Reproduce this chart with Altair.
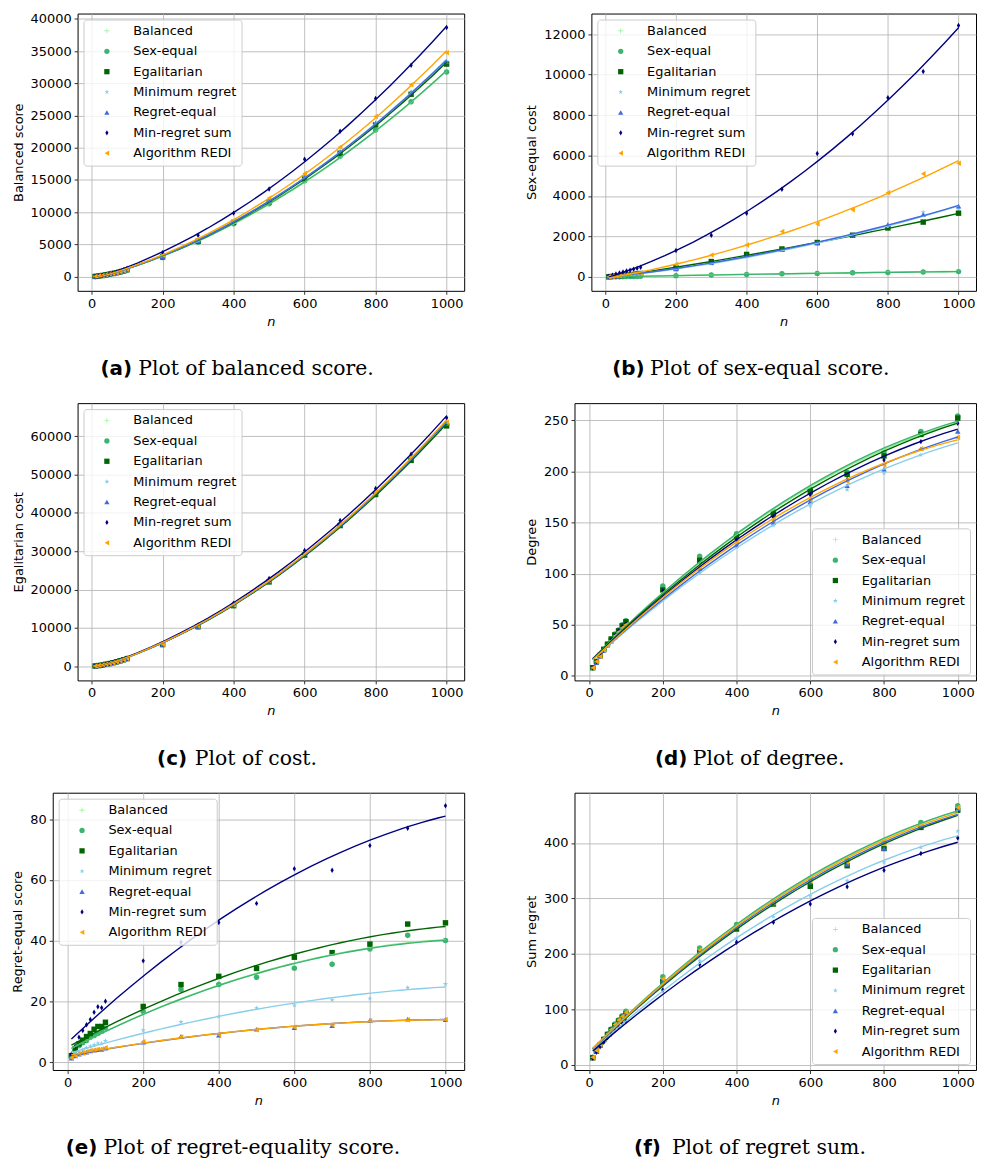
import altair as alt
import pandas as pd

# ---------------- data ----------------
N = [10, 20, 30, 40, 50, 60, 70, 80, 90, 100, 200, 300, 400, 500, 600, 700, 800, 900, 1000]
SERIES = ["Balanced", "Sex-equal", "Egalitarian", "Minimum regret", "Regret-equal",
          "Min-regret sum", "Algorithm REDI"]
COLORS = ["#90ee90", "#3cb371", "#006400", "#87ceeb", "#4169e1", "#000080", "#ffa500"]

# (a) balanced score
A_BAL = [34, 94, 169, 260, 360, 470, 590, 720, 860, 1035, 2940, 5300, 8170, 11250, 14820, 18600, 22700, 27060, 31680]
A_SEX = [35, 95, 171, 263, 364, 474, 595, 725, 865, 1042, 2965, 5345, 8220, 11320, 14890, 18660, 22760, 27120, 31740]
A_EGA = [37, 99, 177, 272, 376, 489, 613, 747, 892, 1078, 3060, 5500, 8420, 11620, 15250, 19150, 23560, 28300, 32980]
A_MIN = [38, 100, 179, 275, 381, 496, 622, 758, 904, 1096, 3110, 5590, 8530, 11790, 15430, 19460, 23870, 28680, 33420]
A_REG = [37, 100, 178, 274, 379, 494, 619, 755, 901, 1091, 3095, 5565, 8505, 11760, 15390, 19410, 23800, 28590, 33330]
A_MRS = [42, 116, 210, 322, 448, 586, 735, 896, 1068, 1300, 3720, 6430, 9850, 13600, 18200, 22550, 27650, 32780, 38650]
A_RED = [39, 105, 190, 290, 402, 524, 657, 800, 955, 1152, 3300, 5850, 8720, 12200, 16020, 20100, 24850, 29780, 34750]

# (b) sex-equal cost
B_BAL = [3, 7, 10, 13, 16, 19, 22, 25, 28, 32, 68, 98, 128, 158, 183, 208, 228, 252, 275]
B_SEX = [2, 5, 8, 11, 14, 17, 19, 22, 25, 29, 64, 95, 122, 152, 175, 205, 222, 247, 262]
B_EGA = [8, 24, 40, 56, 72, 90, 106, 125, 145, 168, 450, 760, 1110, 1380, 1700, 2060, 2420, 2710, 3150]
B_MIN = [7, 21, 36, 50, 65, 82, 98, 115, 133, 150, 380, 650, 1010, 1320, 1620, 2050, 2460, 3200, 3400]
B_REG = [7, 22, 37, 52, 67, 84, 100, 118, 136, 155, 400, 700, 1050, 1360, 1680, 2080, 2580, 3080, 3500]
B_MRS = [40, 90, 140, 190, 240, 290, 335, 385, 430, 480, 1310, 2060, 3150, 4330, 6100, 7070, 8850, 10150, 12420]
B_RED = [10, 25, 42, 58, 76, 96, 116, 136, 156, 180, 620, 1080, 1580, 2250, 2620, 3320, 4160, 5100, 5620]

# (c) egalitarian cost
C_BAL = [59, 171, 317, 492, 693, 914, 1155, 1416, 1697, 1988, 5670, 10340, 15860, 22080, 29100, 36830, 44950, 53880, 62900]
C_SEX = [59, 172, 318, 494, 695, 917, 1158, 1420, 1702, 1994, 5690, 10370, 15900, 22140, 29180, 36930, 45080, 54030, 63060]
C_EGA = [58, 170, 315, 490, 690, 910, 1150, 1410, 1690, 1980, 5650, 10300, 15800, 22000, 29000, 36700, 44800, 53700, 62700]
C_MIN = [60, 173, 320, 497, 699, 922, 1165, 1428, 1712, 2005, 5720, 10420, 15980, 22250, 29320, 37100, 45280, 54270, 63350]
C_REG = [60, 173, 320, 496, 699, 921, 1164, 1427, 1710, 2003, 5715, 10410, 15960, 22230, 29300, 37080, 45250, 54230, 63300]
C_MRS = [62, 178, 330, 512, 720, 950, 1200, 1470, 1762, 2065, 5900, 10750, 16450, 22900, 30200, 38050, 46350, 55300, 64850]
C_RED = [60, 174, 322, 499, 702, 926, 1170, 1434, 1719, 2014, 5750, 10480, 16060, 22360, 29480, 37290, 45530, 54550, 63650]

# (d) degree
D_BAL = [8, 14, 20, 26, 31, 36, 41, 45, 49, 54, 87, 116, 138, 160, 182, 198, 218, 238, 252]
D_SEX = [8, 14, 20, 26, 31, 36, 41, 45, 50, 54, 88, 117, 139, 161, 183, 199, 219, 239, 254]
D_EGA = [8, 14, 20, 26, 31, 36, 40, 44, 49, 53, 84, 113, 136, 158, 180, 197, 215, 236, 252]
D_MIN = [7, 13, 19, 24, 29, 34, 38, 42, 46, 49, 78, 101, 126, 147, 166, 182, 198, 216, 233]
D_REG = [8, 13, 19, 25, 30, 34, 38, 43, 47, 50, 80, 105, 128, 150, 170, 186, 202, 222, 239]
D_MRS = [8, 14, 20, 25, 30, 35, 39, 44, 48, 51, 83, 111, 133, 155, 177, 192, 211, 229, 247]
D_RED = [8, 14, 19, 25, 30, 34, 39, 43, 47, 50, 81, 106, 130, 152, 172, 190, 206, 222, 233]

# (e) regret-equal score
E_BAL = [1.9, 4.1, 5.6, 6.4, 7.3, 8.4, 8.9, 9.6, 10.3, 11.1, 16.5, 23.7, 25.9, 28.3, 31.3, 32.6, 37.6, 41.6, 40.4]
E_SEX = [2.0, 4.0, 5.5, 6.5, 7.2, 8.3, 8.8, 9.5, 10.2, 11.3, 16.7, 24.0, 25.6, 28.0, 31.0, 32.3, 37.3, 41.8, 40.1]
E_EGA = [2.2, 4.5, 6.1, 7.3, 8.5, 9.5, 10.9, 11.8, 11.8, 13.2, 18.4, 25.6, 28.3, 30.9, 34.6, 36.1, 38.9, 45.5, 45.9]
E_MIN = [1.6, 2.8, 3.5, 4.2, 4.8, 5.3, 5.8, 6.3, 6.2, 7.1, 10.6, 13.3, 15.1, 17.9, 18.8, 20.5, 21.0, 24.6, 25.8]
E_REG = [1.4, 2.1, 2.7, 3.1, 3.4, 3.8, 4.0, 4.2, 4.3, 4.7, 6.7, 8.6, 9.0, 10.9, 11.4, 12.1, 13.8, 14.2, 14.1]
E_MRS = [2.8, 5.3, 8.3, 10.5, 12.4, 14.1, 16.5, 18.3, 18.0, 20.1, 33.4, 39.5, 46.0, 52.3, 63.7, 63.2, 71.3, 77.0, 84.4]
E_RED = [1.5, 2.2, 2.8, 3.2, 3.5, 3.9, 4.1, 4.3, 4.4, 4.8, 6.8, 8.4, 9.2, 10.7, 11.6, 12.3, 13.7, 14.0, 14.1]

# (f) sum regret
F_BAL = [14, 26, 37, 47, 56, 65, 73, 81, 89, 96, 157, 209, 252, 294, 334, 367, 402, 436, 466]
F_SEX = [14, 26, 37, 47, 56, 65, 74, 81, 89, 97, 159, 211, 253, 294, 336, 369, 401, 437, 467]
F_EGA = [13, 25, 36, 46, 55, 63, 71, 79, 86, 92, 150, 203, 245, 290, 322, 359, 390, 428, 459]
F_MIN = [13, 24, 34, 43, 51, 59, 66, 73, 79, 84, 145, 188, 228, 267, 305, 332, 365, 392, 421]
F_REG = [14, 26, 37, 46, 55, 64, 72, 80, 87, 94, 153, 205, 248, 291, 330, 362, 390, 430, 462]
F_MRS = [12, 23, 33, 41, 49, 56, 63, 69, 75, 79, 135, 181, 221, 257, 290, 321, 351, 381, 409]
F_RED = [14, 26, 37, 47, 56, 64, 73, 81, 88, 95, 155, 207, 250, 293, 332, 365, 398, 432, 464]

X_TICKS = [0, 200, 400, 600, 800, 1000]
Y_TITLES = ["Balanced score", "Sex-equal cost", "Egalitarian cost", "Degree",
            "Regret-equal score", "Sum regret"]
Y_TICKS_A = [0, 5000, 10000, 15000, 20000, 25000, 30000, 35000, 40000]
Y_TICKS_B = [0, 2000, 4000, 6000, 8000, 10000, 12000]
Y_TICKS_C = [0, 10000, 20000, 30000, 40000, 50000, 60000]
Y_TICKS_D = [0, 50, 100, 150, 200, 250]
Y_TICKS_E = [0, 20, 40, 60, 80]
Y_TICKS_F = [0, 100, 200, 300, 400]
CAP_LABELS = ["(a)", "(b)", "(c)", "(d)", "(e)", "(f)"]
CAP_TEXTS = ["Plot of balanced score.", "Plot of sex-equal score.", "Plot of cost.",
             "Plot of degree.", "Plot of regret-equality score.", "Plot of regret sum."]

# ---------------- style ----------------
PLUS = "M-1,-0.12L-0.12,-0.12L-0.12,-1L0.12,-1L0.12,-0.12L1,-0.12L1,0.12L0.12,0.12L0.12,1L-0.12,1L-0.12,0.12L-1,0.12Z"
STAR = ("M0,-1L0.2245,-0.309L0.951,-0.309L0.363,0.118L0.588,0.809L0,0.382"
        "L-0.588,0.809L-0.363,0.118L-0.951,-0.309L-0.2245,-0.309Z")
THIN_DIAMOND = "M0,-1L0.6,0L0,1L-0.6,0Z"
SHAPES = [PLUS, "circle", "square", STAR, "triangle-up", THIN_DIAMOND, "triangle-left"]
X_DOMAIN = [-39.5, 1049.5]
FONT = "DejaVu Sans"
CAP_Y = 358
IND = dict(color="independent", shape="independent")


def panel(series_values, ytitle, ydomain, yticks, width, height, legend_orient,
          cap_label, cap_text, cap_x):
    rows = []
    for s, vals in zip(SERIES, series_values):
        for n, v in zip(N, vals):
            rows.append({"n": n, "value": v, "series": s})
    df = pd.DataFrame(rows)

    xenc = alt.X("n:Q", scale=alt.Scale(domain=X_DOMAIN, nice=False, zero=False),
                 axis=alt.Axis(values=X_TICKS, title="n", titleFontStyle="italic",
                               format="d", labelFlush=False))
    yenc = alt.Y("value:Q", scale=alt.Scale(domain=ydomain, nice=False, zero=False),
                 axis=alt.Axis(values=yticks, title=ytitle, format="d", labelFlush=False))
    cscale = alt.Scale(domain=SERIES, range=COLORS)
    sscale = alt.Scale(domain=SERIES, range=SHAPES)
    legend = alt.Legend(title=None, orient=legend_orient, offset=6,
                        fillColor="rgba(255,255,255,0.8)", strokeColor="#cccccc",
                        cornerRadius=3, padding=5, labelFont=FONT, labelFontSize=13,
                        labelColor="black", symbolSize=28, symbolOffset=12,
                        labelOffset=20, rowPadding=6.5, symbolStrokeWidth=0)

    pts = alt.Chart(df).mark_point(filled=True, size=30, opacity=1).encode(
        x=xenc, y=yenc,
        color=alt.Color("series:N", scale=cscale, legend=legend),
        shape=alt.Shape("series:N", scale=sscale, legend=legend),
    )
    lines = alt.Chart(df).transform_regression(
        "n", "value", groupby=["series"], method="poly", order=2
    ).mark_line(strokeWidth=1.4).encode(
        x=xenc, y=yenc,
        color=alt.Color("series:N", scale=cscale, legend=None),
    )
    cap_df = pd.DataFrame({"label": [cap_label], "text": [cap_text]})
    lab = alt.Chart(cap_df).mark_text(font=FONT, fontWeight="bold", fontSize=20,
                                      align="left", baseline="middle", color="black").encode(
        text="label:N", x=alt.value(cap_x), y=alt.value(CAP_Y))
    txt = alt.Chart(cap_df).mark_text(font="DejaVu Serif", fontSize=20.5,
                                      align="left", baseline="middle", color="black").encode(
        text="text:N", x=alt.value(cap_x + 38), y=alt.value(CAP_Y))
    return alt.layer(pts, lines, lab, txt).properties(width=width, height=height)


def spacer():
    return alt.Chart(pd.DataFrame({"s": [0]})).mark_point(opacity=0, size=0).encode(
        x=alt.value(0), y=alt.value(0)
    ).properties(width=1, height=1, view=alt.ViewBackground(strokeOpacity=0, fillOpacity=0))


pa = panel([A_BAL, A_SEX, A_EGA, A_MIN, A_REG, A_MRS, A_RED], Y_TITLES[0], [-2200, 40816],
           Y_TICKS_A, 389, 279, "top-left", CAP_LABELS[0], CAP_TEXTS[0], 23)
pb = panel([B_BAL, B_SEX, B_EGA, B_MIN, B_REG, B_MRS, B_RED], Y_TITLES[1], [-687, 13015],
           Y_TICKS_B, 387, 279, "top-left", CAP_LABELS[1], CAP_TEXTS[1], 21)
pc = panel([C_BAL, C_SEX, C_EGA, C_MIN, C_REG, C_MRS, C_RED], Y_TITLES[2], [-3700, 68640],
           Y_TICKS_C, 389, 279, "top-left", CAP_LABELS[2], CAP_TEXTS[2], 80)
pd_ = panel([D_BAL, D_SEX, D_EGA, D_MIN, D_REG, D_MRS, D_RED], Y_TITLES[3], [-4.4, 266.6],
            Y_TICKS_D, 404, 279, "bottom-right", CAP_LABELS[3], CAP_TEXTS[3], 81)
pe = panel([E_BAL, E_SEX, E_EGA, E_MIN, E_REG, E_MRS, E_RED], Y_TITLES[4], [-2.5, 88.7],
           Y_TICKS_E, 414, 279, "top-left", CAP_LABELS[4], CAP_TEXTS[4], 13)
pf = panel([F_BAL, F_SEX, F_EGA, F_MIN, F_REG, F_MRS, F_RED], Y_TITLES[5], [-9, 490.5],
           Y_TICKS_F, 404, 279, "bottom-right", CAP_LABELS[5], CAP_TEXTS[5], 60)

rows = []
for left, right in [(pa, pb), (pc, pd_), (pe, pf)]:
    pair = alt.hconcat(left, right, spacing=60).resolve_scale(**IND)
    rows.append(alt.hconcat(spacer(), pair, spacing=0).resolve_scale(**IND))

chart = alt.vconcat(*rows, spacing=22).resolve_scale(**IND).properties(
    padding={"left": 2, "top": 0, "right": 0, "bottom": 0},
    background="white"
).configure_view(
    stroke="black", strokeWidth=1
).configure_axis(
    grid=True, gridColor="#b0b0b0", gridWidth=0.8, domain=False,
    tickColor="black", tickSize=3.5, tickWidth=0.8,
    labelFont=FONT, labelFontSize=13, labelColor="black", labelPadding=3,
    titleFont=FONT, titleFontSize=13, titleFontWeight="normal", titleColor="black",
    titlePadding=5
)

chart.save("out.html", embed_options={"renderer": "svg", "actions": False})
